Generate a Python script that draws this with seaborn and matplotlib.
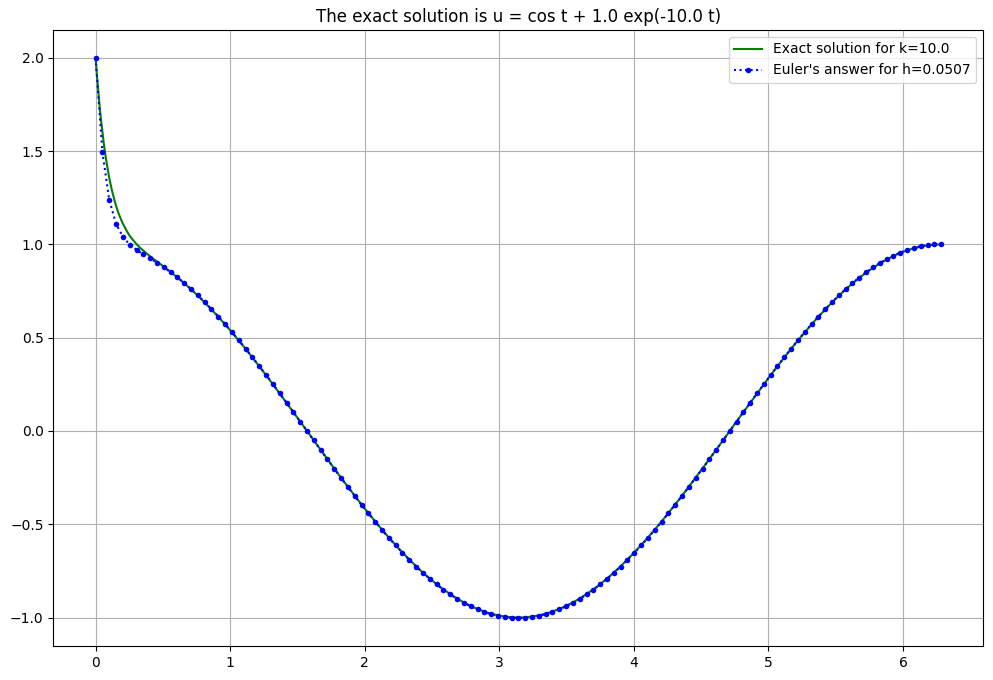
import matplotlib
matplotlib.use("Agg")
import matplotlib.pyplot as plt
import seaborn as sns
import pandas as pd

# Euler time grid (h = 0.0507, 124 steps to 2*pi)
T_EULER = [
    0.000, 0.051, 0.101, 0.152, 0.203, 0.253, 0.304, 0.355, 0.405, 0.456,
    0.507, 0.557, 0.608, 0.659, 0.709, 0.760, 0.811, 0.861, 0.912, 0.963,
    1.013, 1.064, 1.115, 1.165, 1.216, 1.267, 1.317, 1.368, 1.419, 1.469,
    1.520, 1.571, 1.621, 1.672, 1.723, 1.773, 1.824, 1.875, 1.925, 1.976,
    2.027, 2.078, 2.128, 2.179, 2.230, 2.280, 2.331, 2.382, 2.432, 2.483,
    2.534, 2.584, 2.635, 2.686, 2.736, 2.787, 2.838, 2.888, 2.939, 2.990,
    3.040, 3.091, 3.142, 3.192, 3.243, 3.294, 3.344, 3.395, 3.446, 3.496,
    3.547, 3.598, 3.648, 3.699, 3.750, 3.800, 3.851, 3.902, 3.952, 4.003,
    4.054, 4.104, 4.155, 4.206, 4.256, 4.307, 4.358, 4.408, 4.459, 4.510,
    4.560, 4.611, 4.662, 4.712, 4.763, 4.814, 4.864, 4.915, 4.966, 5.016,
    5.067, 5.118, 5.168, 5.219, 5.270, 5.320, 5.371, 5.422, 5.472, 5.523,
    5.574, 5.624, 5.675, 5.726, 5.776, 5.827, 5.878, 5.928, 5.979, 6.030,
    6.080, 6.131, 6.182, 6.233, 6.283,
]

U_EULER = [
    2.0000, 1.4933, 1.2401, 1.1107, 1.0411, 0.9997, 0.9710, 0.9473, 0.9249, 0.9019,
    0.8775, 0.8513, 0.8232, 0.7930, 0.7608, 0.7268, 0.6907, 0.6530, 0.6136, 0.5727,
    0.5302, 0.4864, 0.4415, 0.3954, 0.3482, 0.3001, 0.2513, 0.2018, 0.1518, 0.1014,
    0.0508, 0.0003, -0.0508, -0.1014, -0.1518, -0.2018, -0.2513, -0.3001, -0.3482, -0.3954,
    -0.4415, -0.4864, -0.5302, -0.5727, -0.6136, -0.6530, -0.6907, -0.7266, -0.7607, -0.7927,
    -0.8228, -0.8508, -0.8765, -0.9001, -0.9213, -0.9401, -0.9565, -0.9705, -0.9820, -0.9909,
    -0.9974, -1.0012, -1.0025, -1.0012, -0.9974, -0.9909, -0.9820, -0.9705, -0.9565, -0.9401,
    -0.9213, -0.9001, -0.8765, -0.8508, -0.8228, -0.7927, -0.7607, -0.7266, -0.6907, -0.6530,
    -0.6136, -0.5727, -0.5302, -0.4864, -0.4415, -0.3954, -0.3482, -0.3001, -0.2513, -0.2018,
    -0.1518, -0.1014, -0.0508, -0.0003, 0.0508, 0.1014, 0.1518, 0.2018, 0.2513, 0.3001,
    0.3482, 0.3954, 0.4415, 0.4864, 0.5302, 0.5727, 0.6136, 0.6530, 0.6907, 0.7266,
    0.7607, 0.7927, 0.8228, 0.8508, 0.8765, 0.9001, 0.9213, 0.9401, 0.9565, 0.9705,
    0.9820, 0.9909, 0.9974, 1.0012, 1.0025,
]

# Exact solution samples (denser near the start where it bends sharply)
T_EXACT_START = [0.000, 0.010, 0.020, 0.030, 0.040, 0.051, 0.060, 0.070, 0.080, 0.090,
                 0.101, 0.120, 0.140, 0.152, 0.170, 0.190, 0.203, 0.230, 0.253, 0.280,
                 0.304, 0.330, 0.355, 0.380]
U_EXACT_START = [2.000, 1.905, 1.819, 1.740, 1.670, 1.601, 1.547, 1.494, 1.446, 1.403,
                 1.358, 1.294, 1.237, 1.207, 1.168, 1.132, 1.111, 1.074, 1.047, 1.022,
                 1.002, 0.983, 0.967, 0.951]
T_EXACT_REST = T_EULER[8:]
U_EXACT_REST = [
    0.936, 0.908, 0.881, 0.852, 0.823, 0.792, 0.760, 0.725, 0.689, 0.651,
    0.612, 0.571, 0.529, 0.485, 0.440, 0.394, 0.347, 0.299, 0.251, 0.201,
    0.151, 0.101, 0.051, 0.000, -0.051, -0.101, -0.151, -0.201, -0.251, -0.299,
    -0.347, -0.394, -0.440, -0.485, -0.529, -0.571, -0.612, -0.651, -0.689, -0.725,
    -0.759, -0.791, -0.821, -0.849, -0.874, -0.898, -0.919, -0.938, -0.954, -0.968,
    -0.980, -0.988, -0.995, -0.999, -1.000, -0.999, -0.995, -0.988, -0.980, -0.968,
    -0.954, -0.938, -0.919, -0.898, -0.874, -0.849, -0.821, -0.791, -0.759, -0.725,
    -0.689, -0.651, -0.612, -0.571, -0.529, -0.485, -0.440, -0.394, -0.347, -0.299,
    -0.251, -0.201, -0.151, -0.101, -0.051, 0.000, 0.051, 0.101, 0.151, 0.201,
    0.251, 0.299, 0.347, 0.394, 0.440, 0.485, 0.529, 0.571, 0.612, 0.651,
    0.689, 0.725, 0.759, 0.791, 0.821, 0.849, 0.874, 0.898, 0.919, 0.938,
    0.954, 0.968, 0.980, 0.988, 0.995, 0.999, 1.000,
]

TITLE = "The exact solution is u = cos t + 1.0 exp(-10.0 t)"
LABEL_EXACT = "Exact solution for k=10.0"
LABEL_EULER = "Euler's answer for h=0.0507"

df_exact = pd.DataFrame({"t": T_EXACT_START + T_EXACT_REST,
                         "u": U_EXACT_START + U_EXACT_REST})
df_euler = pd.DataFrame({"t": T_EULER, "u": U_EULER})

plt.rcParams["font.family"] = ["DejaVu Sans"]
fig, ax = plt.subplots(figsize=(9.93, 6.8), dpi=100)
fig.subplots_adjust(left=0.0537, right=0.9903, top=0.956, bottom=0.050)

sns.lineplot(data=df_exact, x="t", y="u", ax=ax, color="green", linewidth=1.5,
             sort=False, estimator=None, label=LABEL_EXACT)
sns.lineplot(data=df_euler, x="t", y="u", ax=ax, color="blue", linewidth=1.5,
             linestyle=":", marker="o", markersize=4, markeredgewidth=0,
             sort=False, estimator=None, label=LABEL_EULER)

ax.set_title(TITLE, fontsize=12)
ax.set_xlabel("")
ax.set_ylabel("")
ax.grid(True, color="#b0b0b0", linewidth=0.8)
ax.set_axisbelow(True)
ax.legend(loc="upper right", fontsize=10)

fig.savefig("out.png", dpi=100)
